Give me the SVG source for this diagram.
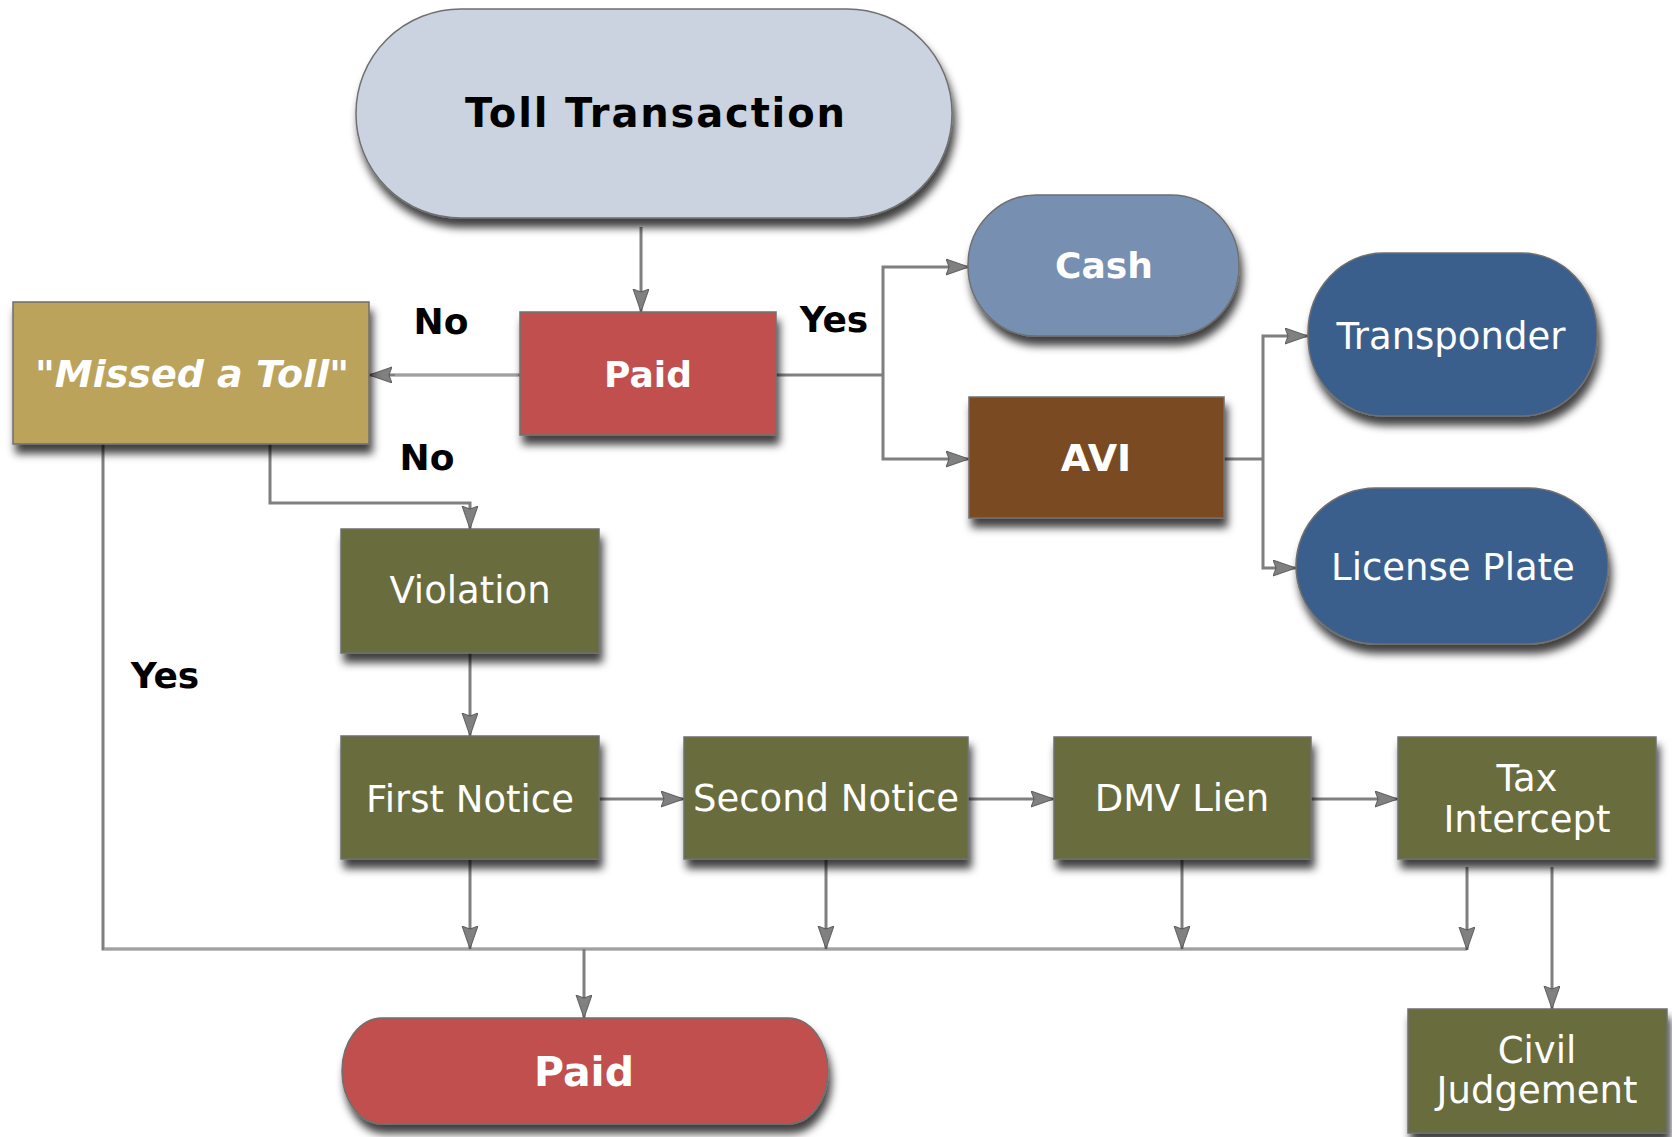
<svg xmlns="http://www.w3.org/2000/svg" width="1672" height="1137" viewBox="0 0 1672 1137">
<defs>
<filter id="sh" x="-10%" y="-10%" width="125%" height="140%">
<feDropShadow dx="3" dy="9" stdDeviation="4" flood-color="#000" flood-opacity="0.75"/>
</filter>
<marker id="ah" markerUnits="userSpaceOnUse" markerWidth="26" markerHeight="18" refX="23" refY="8" orient="auto">
<path d="M0,0 L23,8 L0,16 L3,8 z" fill="#808080" stroke="#4a4a4a" stroke-width="0.8"/>
</marker>
<style>
.n{stroke:#6f6f6f;stroke-width:1.5;filter:url(#sh)}
.c{fill:none;stroke:#7f7f7f;stroke-width:3}
.ci{fill:none;stroke:#c4c4c4;stroke-width:1}
.a{marker-end:url(#ah)}
.t{font-family:"DejaVu Sans","Verdana",sans-serif;fill:#fff;text-anchor:middle;font-size:37px}
.b{font-weight:bold;font-size:36px}
.lbl{font-family:"DejaVu Sans","Verdana",sans-serif;fill:#000;font-weight:bold;font-size:36px;text-anchor:middle}
</style>
</defs>
<rect width="1672" height="1137" fill="#fff"/>

<g id="connectors">
<path class="c a" d="M641,227 V312"/>
<path class="c a" d="M520,375 H369"/>
<path class="ci" d="M518,375 H395"/>
<path class="c" d="M776,375 H883"/>
<path class="c a" d="M883,375 V267 H969"/>
<path class="c a" d="M883,375 V459 H969"/>
<path class="c" d="M1224,459 H1263"/>
<path class="c a" d="M1263,459 V336 H1308"/>
<path class="c a" d="M1263,459 V568 H1296"/>
<path class="c a" d="M270,444 V503 H470 V529"/>
<path class="c" d="M103,444 V949 H1467"/>
<path class="ci" d="M104,949 H1465"/>
<path class="c a" d="M470,653 V736"/>
<path class="c a" d="M599,799 H684"/>
<path class="c a" d="M968,799 H1054"/>
<path class="c a" d="M1311,799 H1398"/>
<path class="c a" d="M470,860 V949"/>
<path class="c a" d="M826,860 V949"/>
<path class="c a" d="M1182,860 V949"/>
<path class="c a" d="M1467,867 V950"/>
<path class="c a" d="M584,949 V1018"/>
<path class="c a" d="M1552,867 V1009"/>
</g>

<g id="labels">
<text class="lbl" x="441" y="334">No</text>
<text class="lbl" x="834" y="332">Yes</text>
<text class="lbl" x="427" y="470">No</text>
<text class="lbl" x="165" y="688">Yes</text>
</g>

<g id="toll-transaction">
<rect class="n" x="356" y="9" width="596" height="209" rx="105" ry="104" fill="#cbd3e0"/>
<text class="t b" x="655" y="127" style="fill:#000;font-size:40px" textLength="380" lengthAdjust="spacing">Toll Transaction</text>
</g>
<g id="paid-decision">
<rect class="n" x="520" y="312" width="256" height="123" fill="#c0504d"/>
<text class="t b" x="648" y="387">Paid</text>
</g>
<g id="missed-a-toll">
<rect class="n" x="13" y="302" width="356" height="142" fill="#bba35c"/>
<text class="t b" x="192" y="387" font-style="italic" style="font-size:38px">"Missed a Toll"</text>
</g>
<g id="cash">
<rect class="n" x="968" y="195" width="271" height="141" rx="68" ry="70" fill="#7790b1"/>
<text class="t b" x="1104" y="278">Cash</text>
</g>
<g id="avi">
<rect class="n" x="969" y="397" width="255" height="121" fill="#7a4b23"/>
<text class="t b" x="1096" y="471" style="font-size:38px">AVI</text>
</g>
<g id="transponder">
<rect class="n" x="1308" y="253" width="289" height="163" rx="75" ry="80" fill="#3b5f8c"/>
<text class="t" x="1451" y="349">Transponder</text>
</g>
<g id="license-plate">
<rect class="n" x="1296" y="488" width="312" height="156" rx="80" ry="78" fill="#3b5f8c"/>
<text class="t" x="1453" y="580">License Plate</text>
</g>
<g id="violation">
<rect class="n" x="341" y="529" width="258" height="124" fill="#696c3e"/>
<text class="t" x="470" y="603">Violation</text>
</g>
<g id="first-notice">
<rect class="n" x="341" y="736" width="258" height="123" fill="#696c3e"/>
<text class="t" x="470" y="812">First Notice</text>
</g>
<g id="second-notice">
<rect class="n" x="684" y="737" width="284" height="122" fill="#696c3e"/>
<text class="t" x="826" y="811">Second Notice</text>
</g>
<g id="dmv-lien">
<rect class="n" x="1054" y="737" width="257" height="122" fill="#696c3e"/>
<text class="t" x="1182" y="811">DMV Lien</text>
</g>
<g id="tax-intercept">
<rect class="n" x="1398" y="737" width="258" height="122" fill="#696c3e"/>
<text class="t" x="1527" y="791">Tax</text>
<text class="t" x="1527" y="832">Intercept</text>
</g>
<g id="paid-final">
<rect class="n" x="342" y="1018" width="486" height="106" rx="40" ry="53" fill="#c0504d"/>
<text class="t b" x="584" y="1086" style="font-size:41px">Paid</text>
</g>
<g id="civil-judgement">
<rect class="n" x="1408" y="1009" width="259" height="124" fill="#696c3e"/>
<text class="t" x="1537" y="1063">Civil</text>
<text class="t" x="1537" y="1103">Judgement</text>
</g>
</svg>
